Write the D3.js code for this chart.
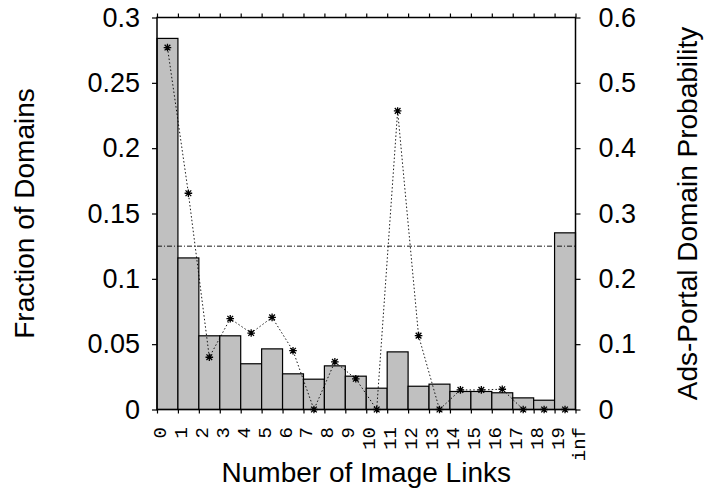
<!DOCTYPE html>
<html><head><meta charset="utf-8">
<script src="https://cdn.jsdelivr.net/npm/d3@7"></script>
<style>
html,body{margin:0;padding:0;background:#fff;}
svg{display:block;}
text{font-family:"Liberation Sans",Arial,Helvetica,sans-serif;fill:#000;}
</style></head>
<body><svg id="c" width="704" height="491"></svg>
<script>
// ---- data ----
const xTickLabels = ["0","1","2","3","4","5","6","7","8","9","10","11","12","13","14","15","16","17","18","19","inf"];
const fractionOfDomains = [0.284,0.116,0.0564,0.0564,0.035,0.0464,0.0273,0.0232,0.0334,0.0255,0.0163,0.0441,0.0178,0.0194,0.0138,0.0138,0.0128,0.0089,0.0071,0.1352];
const adsPortalProbability = [0.554,0.331,0.080,0.139,0.117,0.141,0.090,0,0.073,0.047,0,0.457,0.113,0,0.030,0.030,0.031,0,0,0];
const referenceLine = 0.125; // on left axis
const leftTicks = [0,0.05,0.1,0.15,0.2,0.25,0.3];
const rightTicks = [0,0.1,0.2,0.3,0.4,0.5,0.6];

const svg = d3.select("#c");
const L = 157, R = 575.5, T = 17.5, B = 409.5;
const x = d3.scaleLinear().domain([0, 20]).range([L, R]);
const yL = d3.scaleLinear().domain([0, 0.3]).range([B, T]);
const yR = d3.scaleLinear().domain([0, 0.6]).range([B, T]);

// bars
svg.append("g").selectAll("rect").data(fractionOfDomains).join("rect")
  .attr("x", (d,i) => x(i)).attr("width", (d,i) => x(i+1) - x(i))
  .attr("y", d => yL(d)).attr("height", d => B - yL(d))
  .attr("fill", "#c0c0c0").attr("stroke", "#000").attr("stroke-width", 1.2);

// reference dash-dot line
svg.append("line").attr("x1", L).attr("x2", R)
  .attr("y1", yL(referenceLine)).attr("y2", yL(referenceLine))
  .attr("stroke", "#000").attr("stroke-width", 0.9).attr("stroke-dasharray", "5,2,1,2");

// probability line
const line = d3.line().x((d,i) => x(i + 0.5)).y(d => yR(d));
svg.append("path").datum(adsPortalProbability).attr("d", line)
  .attr("fill", "none").attr("stroke", "#000").attr("stroke-width", 0.9).attr("stroke-dasharray", "1.5,2.2");

// star points
const s = 3.8;
const pts = svg.append("g").selectAll("g").data(adsPortalProbability).join("g")
  .attr("transform", (d,i) => `translate(${x(i+0.5)},${yR(d)})`);
pts.append("path")
  .attr("d", `M${-s},0H${s}M0,${-s}V${s}M${-s*0.75},${-s*0.75}L${s*0.75},${s*0.75}M${-s*0.75},${s*0.75}L${s*0.75},${-s*0.75}`)
  .attr("stroke", "#000").attr("stroke-width", 1.3).attr("fill", "none");

// axes
const axL = d3.axisLeft(yL).tickValues(leftTicks).tickSize(5).tickPadding(12)
  .tickFormat(d => d3.format("")(+d.toFixed(2)));
const gL = svg.append("g").attr("transform", `translate(${L},0)`).call(axL);
const axR = d3.axisRight(yR).tickValues(rightTicks).tickSize(5).tickPadding(18)
  .tickFormat(d => d3.format("")(+d.toFixed(1)));
const gR = svg.append("g").attr("transform", `translate(${R},0)`).call(axR);
const ticksX = d3.range(0, 21);
const axB = d3.axisBottom(x).tickValues(ticksX).tickSize(4).tickFormat("");
svg.append("g").attr("transform", `translate(0,${B})`).call(axB);
const axT = d3.axisTop(x).tickValues(ticksX).tickSize(4).tickFormat("");
svg.append("g").attr("transform", `translate(0,${T})`).call(axT);
svg.selectAll(".domain").remove();
svg.selectAll(".tick line").attr("stroke", "#000").attr("stroke-width", 1.2);
[gL, gR].forEach(g => g.selectAll("text").style("font-size", "27px")
  .style("font-family", '"Liberation Sans",Arial,sans-serif').attr("fill", "#000"));

// frame
svg.append("rect").attr("x", L).attr("y", T).attr("width", R - L).attr("height", B - T)
  .attr("fill", "none").attr("stroke", "#000").attr("stroke-width", 1.5);

// x tick labels (rotated, monospace)
svg.append("g").selectAll("text").data(xTickLabels).join("text")
  .attr("transform", (d,i) => `translate(${x(i)+9},427) rotate(-90)`)
  .attr("text-anchor", "end")
  .style("font-family", '"Liberation Mono","Courier New",monospace')
  .style("font-size", "19px")
  .text(d => d);

// titles
svg.append("text").attr("x", (L+R)/2).attr("y", 482).attr("text-anchor", "middle")
  .style("font-size", "28px").text("Number of Image Links");
svg.append("text").attr("transform", `translate(34,${(T+B)/2}) rotate(-90)`)
  .attr("text-anchor", "middle").style("font-size", "28px").text("Fraction of Domains");
svg.append("text").attr("transform", `translate(697,${(T+B)/2}) rotate(-90)`)
  .attr("text-anchor", "middle").style("font-size", "28px").text("Ads-Portal Domain Probability");
</script></body></html>
